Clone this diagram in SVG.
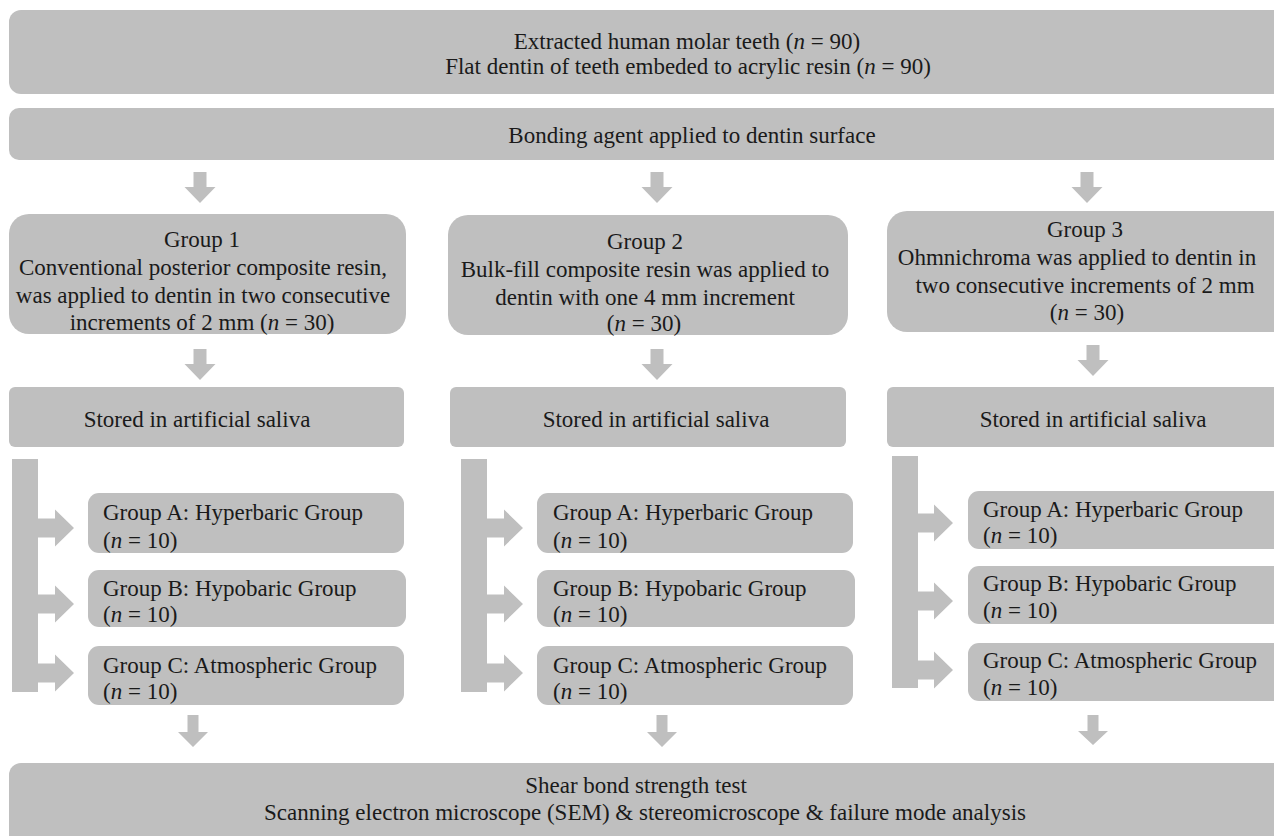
<svg xmlns="http://www.w3.org/2000/svg" width="1274" height="836" viewBox="0 0 1274 836">
<style>
.box{fill:#bfbfbf;}
.arr{fill:#bfbfbf;}
text{font-family:"Liberation Serif","Times New Roman",serif;font-size:23px;fill:#1a1a1a;}
.c{text-anchor:middle;}
.i{font-style:italic;}
</style>
<rect width="1274" height="836" fill="#ffffff"/>
<g id="top">
<rect class="box" x="9" y="10" width="1290" height="84" rx="12"/>
<text class="c" x="687" y="49">Extracted human molar teeth (<tspan class="i">n</tspan> = 90)</text>
<text class="c" x="688" y="74">Flat dentin of teeth embeded to acrylic resin (<tspan class="i">n</tspan> = 90)</text>
</g>
<g id="bonding">
<rect class="box" x="9" y="108" width="1290" height="52" rx="10"/>
<text class="c" x="692" y="143">Bonding agent applied to dentin surface</text>
</g>
<g id="group1">
<rect class="box" x="9" y="214" width="397" height="120" rx="20"/>
<text class="c" x="202" y="247">Group 1</text>
<text class="c" x="203" y="275">Conventional posterior composite resin,</text>
<text class="c" x="203" y="303">was applied to dentin in two consecutive</text>
<text class="c" x="202" y="330">increments of 2 mm (<tspan class="i">n</tspan> = 30)</text>
</g>
<g id="group2">
<rect class="box" x="448" y="215" width="400" height="120" rx="20"/>
<text class="c" x="645" y="249">Group 2</text>
<text class="c" x="645" y="277">Bulk-fill composite resin was applied to</text>
<text class="c" x="645" y="305">dentin with one 4 mm increment</text>
<text class="c" x="644" y="331">(<tspan class="i">n</tspan> = 30)</text>
</g>
<g id="group3">
<rect class="box" x="887" y="211" width="410" height="121" rx="20"/>
<text class="c" x="1085" y="237">Group 3</text>
<text class="c" x="1077" y="265">Ohmnichroma was applied to dentin in</text>
<text class="c" x="1085" y="293">two consecutive increments of 2 mm</text>
<text class="c" x="1087" y="320">(<tspan class="i">n</tspan> = 30)</text>
</g>
<g id="stored1">
<rect class="box" x="9" y="387" width="395" height="60" rx="6"/>
<text class="c" x="197" y="427">Stored in artificial saliva</text>
</g>
<g id="stored2">
<rect class="box" x="450" y="387" width="396" height="60" rx="6"/>
<text class="c" x="656" y="427">Stored in artificial saliva</text>
</g>
<g id="stored3">
<rect class="box" x="887" y="387" width="410" height="60" rx="6"/>
<text class="c" x="1093" y="427">Stored in artificial saliva</text>
</g>
<g id="g1A">
<rect class="box" x="88" y="493" width="316" height="60" rx="11"/>
<text x="103" y="520">Group A: Hyperbaric Group</text>
<text x="103" y="548">(<tspan class="i">n</tspan> = 10)</text>
</g>
<g id="g1B">
<rect class="box" x="88" y="570" width="318" height="57" rx="11"/>
<text x="103" y="596">Group B: Hypobaric Group</text>
<text x="103" y="622">(<tspan class="i">n</tspan> = 10)</text>
</g>
<g id="g1C">
<rect class="box" x="88" y="646" width="316" height="59" rx="11"/>
<text x="103" y="673">Group C: Atmospheric Group</text>
<text x="103" y="699">(<tspan class="i">n</tspan> = 10)</text>
</g>
<g id="g2A">
<rect class="box" x="537" y="493" width="316" height="60" rx="11"/>
<text x="553" y="520">Group A: Hyperbaric Group</text>
<text x="553" y="548">(<tspan class="i">n</tspan> = 10)</text>
</g>
<g id="g2B">
<rect class="box" x="537" y="570" width="318" height="57" rx="11"/>
<text x="553" y="596">Group B: Hypobaric Group</text>
<text x="553" y="622">(<tspan class="i">n</tspan> = 10)</text>
</g>
<g id="g2C">
<rect class="box" x="537" y="646" width="316" height="59" rx="11"/>
<text x="553" y="673">Group C: Atmospheric Group</text>
<text x="553" y="699">(<tspan class="i">n</tspan> = 10)</text>
</g>
<g id="g3A">
<rect class="box" x="968" y="491" width="330" height="58" rx="11"/>
<text x="983" y="517">Group A: Hyperbaric Group</text>
<text x="983" y="543">(<tspan class="i">n</tspan> = 10)</text>
</g>
<g id="g3B">
<rect class="box" x="968" y="566" width="330" height="58" rx="11"/>
<text x="983" y="591">Group B: Hypobaric Group</text>
<text x="983" y="618">(<tspan class="i">n</tspan> = 10)</text>
</g>
<g id="g3C">
<rect class="box" x="968" y="643" width="330" height="58" rx="11"/>
<text x="983" y="668">Group C: Atmospheric Group</text>
<text x="983" y="695">(<tspan class="i">n</tspan> = 10)</text>
</g>
<g id="final">
<rect class="box" x="9" y="763" width="1290" height="100" rx="12"/>
<text class="c" x="636" y="793">Shear bond strength test</text>
<text class="c" x="645" y="820">Scanning electron microscope (SEM) &amp; stereomicroscope &amp; failure mode analysis</text>
</g>
<g id="connectors" class="arr">
<path d="M193.5 172H206.5V187H215.5L200 203L184.5 187H193.5Z"/>
<path d="M650.5 172H663.5V187H672.5L657 203L641.5 187H650.5Z"/>
<path d="M1080.5 172H1093.5V187H1102.5L1087 203L1071.5 187H1080.5Z"/>
<path d="M193.5 349H206.5V364H215.5L200 380L184.5 364H193.5Z"/>
<path d="M650.5 349H663.5V364H672.5L657 380L641.5 364H650.5Z"/>
<path d="M1086.5 345H1099.5V360H1108.5L1093 376L1077.5 360H1086.5Z"/>
<rect x="12" y="459" width="26" height="233"/>
<path d="M38 518.5H55V509.5L74 528L55 546.5V537.5H38Z"/>
<path d="M38 594.5H55V585.5L74 604L55 622.5V613.5H38Z"/>
<path d="M38 663.5H55V654.5L74 673L55 691.5V682.5H38Z"/>
<rect x="461" y="459" width="26" height="233"/>
<path d="M487 518.5H504V509.5L523 528L504 546.5V537.5H487Z"/>
<path d="M487 594.5H504V585.5L523 604L504 622.5V613.5H487Z"/>
<path d="M487 663.5H504V654.5L523 673L504 691.5V682.5H487Z"/>
<rect x="892" y="456" width="26" height="232"/>
<path d="M918 513.5H934V504.5L953 523L934 541.5V532.5H918Z"/>
<path d="M918 591.5H934V582.5L953 601L934 619.5V610.5H918Z"/>
<path d="M918 660.5H934V651.5L953 670L934 688.5V679.5H918Z"/>
<path d="M187.5 715H198.5V732H208L193 747L178 732H187.5Z"/>
<path d="M656.5 715H667.5V732H677L662 747L647 732H656.5Z"/>
<path d="M1087.5 715H1098.5V731H1108L1093 745L1078 731H1087.5Z"/>
</g>
</svg>
